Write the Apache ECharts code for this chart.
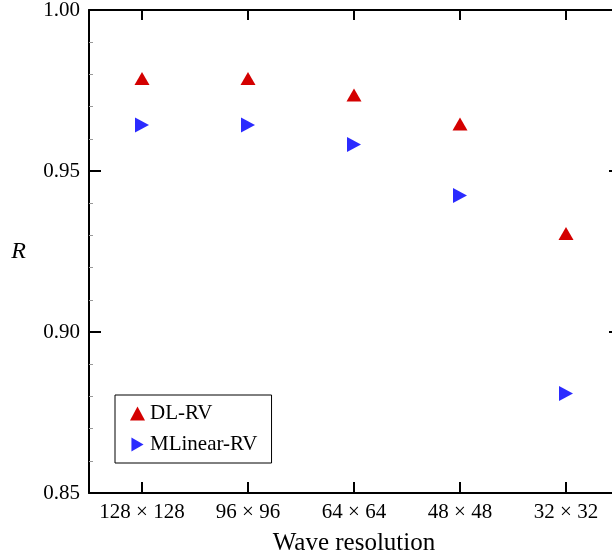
<!DOCTYPE html>
<html>
<head>
<meta charset="utf-8">
<script src="https://cdn.jsdelivr.net/npm/echarts@6/dist/echarts.min.js"></script>
<style>
html,body{margin:0;padding:0;background:#fff;}
#chart{width:612px;height:557px;}
</style>
</head>
<body>
<div id="chart"></div>
<script>
var categories = ['128 \u00d7 128', '96 \u00d7 96', '64 \u00d7 64', '48 \u00d7 48', '32 \u00d7 32'];
var dlRV = [0.9787, 0.9787, 0.9736, 0.9646, 0.9306];
var mlinearRV = [0.9643, 0.9643, 0.9582, 0.9424, 0.8809];
var yTicks = [0.85, 0.90, 0.95, 1.00];

var FONT = '"Liberation Serif", "DejaVu Serif", serif';
var chart = echarts.init(document.getElementById('chart'), null, {renderer: 'canvas'});

var axisLine = {show: true, lineStyle: {color: '#000', width: 2}};
var xTick = {show: true, inside: true, length: 11, alignWithLabel: true, interval: 0, lineStyle: {color: '#000', width: 2}};
var yTick = {show: true, inside: true, length: 12, lineStyle: {color: '#000', width: 2}};
var yMinor = {show: true, splitNumber: 5, length: 4, lineStyle: {color: '#999', width: 1}};

chart.setOption({
  animation: false,
  backgroundColor: '#fff',
  grid: {left: 89, top: 10, width: 530, height: 483, containLabel: false, outerBoundsMode: 'none'},
  legend: {
    show: true,
    orient: 'vertical',
    left: 115,
    top: 395,
    padding: [8, 14, 8, 15],
    itemGap: 10,
    itemWidth: 15,
    itemHeight: 14,
    borderColor: '#000',
    borderWidth: 1,
    borderRadius: 0,
    textStyle: {fontFamily: FONT, fontSize: 21, color: '#000'},
    data: [
      {name: 'DL-RV', icon: 'triangle'},
      {name: 'MLinear-RV', icon: 'path://M0,0L13,7.5L0,15Z'}
    ]
  },
  xAxis: [{
    type: 'category',
    data: categories,
    position: 'bottom',
    boundaryGap: true,
    axisLine: axisLine,
    axisTick: xTick,
    axisLabel: {fontFamily: FONT, fontSize: 21, color: '#000', margin: 9, interval: 0},
    splitLine: {show: false},
    name: 'Wave resolution',
    nameLocation: 'middle',
    nameGap: 38,
    nameTextStyle: {fontFamily: FONT, fontSize: 25, color: '#000'}
  }, {
    type: 'category',
    data: categories,
    position: 'top',
    boundaryGap: true,
    axisLine: axisLine,
    axisTick: {show: true, inside: true, length: 10, alignWithLabel: true, interval: 0, lineStyle: {color: '#000', width: 2}},
    axisLabel: {show: false, interval: 0},
    splitLine: {show: false}
  }],
  yAxis: [{
    type: 'value',
    min: yTicks[0],
    max: yTicks[yTicks.length - 1],
    interval: 0.05,
    position: 'left',
    axisLine: axisLine,
    axisTick: yTick,
    minorTick: yMinor,
    splitLine: {show: false},
    axisLabel: {fontFamily: FONT, fontSize: 21, color: '#000', margin: 9,
      formatter: function (v) { return v.toFixed(2); }},
    name: 'R',
    nameLocation: 'middle',
    nameGap: 63,
    nameRotate: 0,
    nameTextStyle: {fontFamily: FONT, fontSize: 24, fontStyle: 'italic', color: '#000'}
  }, {
    type: 'value',
    min: yTicks[0],
    max: yTicks[yTicks.length - 1],
    interval: 0.05,
    position: 'right',
    axisLine: axisLine,
    axisTick: {show: true, inside: true, length: 10, lineStyle: {color: '#000', width: 2}},
    minorTick: yMinor,
    splitLine: {show: false},
    axisLabel: {show: false}
  }],
  series: [{
    name: 'DL-RV',
    type: 'scatter',
    data: dlRV,
    symbol: 'triangle',
    symbolSize: [15, 13],
    itemStyle: {color: '#d40000', opacity: 1}
  }, {
    name: 'MLinear-RV',
    type: 'scatter',
    data: mlinearRV,
    symbol: 'triangle',
    symbolRotate: -90,
    symbolSize: [15, 14],
    itemStyle: {color: '#2b2bff', opacity: 1}
  }]
});
</script>
</body>
</html>
